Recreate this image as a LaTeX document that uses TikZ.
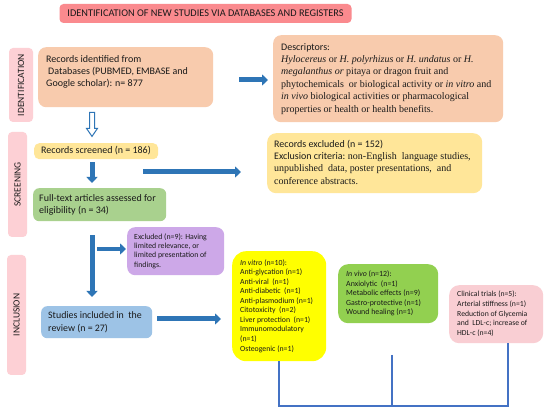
\documentclass[tikz,border=0pt]{standalone}
\usepackage{fontspec}
\setmainfont{Carlito}
\newfontfamily\tms{Liberation Serif}
\usetikzlibrary{arrows.meta,calc}
\definecolor{titlepink}{HTML}{FA8A8E}
\definecolor{sidepink}{HTML}{FDD0D5}
\definecolor{peach}{HTML}{F8CBAD}
\definecolor{lightyellow}{HTML}{FFE699}
\definecolor{lightgreen}{HTML}{A9D18E}
\definecolor{lavender}{HTML}{CDA8E8}
\definecolor{lightblue}{HTML}{9DC3E6}
\definecolor{brightyellow}{HTML}{FFFF00}
\definecolor{vivogreen}{HTML}{92D050}
\definecolor{clinpink}{HTML}{F9CED3}
\definecolor{arrowblue}{HTML}{2E75B6}
\definecolor{connblue}{HTML}{4472C4}
\definecolor{ink}{HTML}{1A1A1A}
\newcommand\lines[2]{\makebox[#1][l]{\begin{tabular}{@{}l@{}}#2\end{tabular}}}
\newcommand\tmsf{\tms\fontsize{10}{12.4}\selectfont}
\tikzset{
  box/.style={rounded corners=8pt, inner ysep=0pt, anchor=north west, text=ink},
  sidebar/.style={fill=sidepink, rounded corners=4pt, rotate=90, inner sep=0pt, text=ink,
    font=\fontsize{9.5}{11}\selectfont},
  bigarrow/.style={draw=arrowblue, line width=5pt, -{Triangle[length=6pt,width=11pt]}},
  hollowarrow/.style={draw=arrowblue, fill=white, line width=1pt, line join=miter},
  conn/.style={draw=connblue, line width=1.5pt},
}
\begin{document}
\begin{tikzpicture}[x=1pt,y=-1pt]
\useasboundingbox (0,0) rectangle (550,414);
\fill[white] (0,0) rectangle (550,414);

% title
\node[fill=titlepink, rounded corners=4pt, minimum width=292pt, minimum height=19pt, inner sep=0pt,
  text=ink, font=\fontsize{10.3}{12}\selectfont] (title) at (205.5,13.5)
  {IDENTIFICATION OF NEW STUDIES VIA DATABASES AND REGISTERS};

% side bars
\node[sidebar, minimum width=74pt, minimum height=24pt] (sid) at (21,85) {IDENTIFICATION};
\node[sidebar, minimum width=105pt, minimum height=19pt] (sscr) at (17.5,184.5) {SCREENING};
\node[sidebar, minimum width=120pt, minimum height=19pt] (sinc) at (16.5,315) {INCLUSION};

% boxes
\node[box, fill=peach, inner xsep=8pt, minimum height=60pt,
  font=\fontsize{10}{12}\selectfont] (rec) at (38,47)
  {\lines{159pt}{Records identified from\\
   \hspace*{2pt}Databases (PUBMED, EMBASE and\\ Google scholar): n= 877\\ \\[-1pt]}};

\node[box, fill=peach, inner xsep=8pt, minimum height=87pt,
  font=\fontsize{10}{12.4}\selectfont] (desc) at (273,35)
  {\lines{214pt}{Descriptors:\\
   \tmsf\textit{Hylocereus} or \textit{H. polyrhizus} or \textit{H. undatus} or \textit{H.}\\
   \tmsf\textit{megalanthus or} pitaya or dragon fruit and\\
   \tmsf phytochemicals\ \ or biological activity or \textit{in vitro} and\\
   \tmsf\textit{in vivo} biological activities or pharmacological\\
   \tmsf properties or health or health benefits.}};

\node[box, fill=lightyellow, rounded corners=5pt, inner xsep=7pt, minimum height=16pt,
  font=\fontsize{10}{12}\selectfont] (scr) at (34,143) {\lines{110pt}{Records screened (n = 186)}};

\node[box, fill=lightyellow, rounded corners=9pt, inner xsep=7pt, minimum height=60pt,
  font=\fontsize{10}{12.4}\selectfont] (excl) at (267,133)
  {\lines{201pt}{Records excluded (n = 152)\\
   Exclusion criteria:{\tmsf\ non-English\ \ language studies,}\\
   \tmsf unpublished\ \ data, poster presentations,\ \ and\\
   \tmsf conference abstracts.}};

\node[box, fill=lightgreen, rounded corners=6pt, inner xsep=6pt, minimum height=33pt,
  font=\fontsize{10}{12}\selectfont] (full) at (33,188)
  {\lines{121pt}{Full-text articles assessed for\\ eligibility (n = 34)}};

\node[box, fill=lavender, rounded corners=8pt, inner xsep=7pt, minimum height=48pt,
  font=\fontsize{7.8}{9.3}\selectfont] (ex9) at (127,227)
  {\lines{83pt}{Excluded (n=9): Having\\ limited relevance, or\\ limited presentation of\\ findings.}};

\node[box, fill=lightblue, rounded corners=6pt, inner xsep=7pt, minimum height=32pt,
  font=\fontsize{9.9}{13}\selectfont] (stud) at (41,306)
  {\lines{97pt}{Studies included in\ \ the\\ review (n = 27)}};

\node[box, fill=brightyellow, rounded corners=14pt, inner xsep=8pt, minimum height=110pt,
  font=\fontsize{7.8}{9.55}\selectfont] (inv) at (232,251)
  {\lines{78pt}{\textit{In vitro} (n=10):\\ Anti-glycation (n=1)\\ Anti-viral\ \ (n=1)\\ Anti-diabetic\ \ (n=1)\\
   Anti-plasmodium (n=1)\\ Citotoxicity\ \ (n=2)\\ Liver protection\ \ (n=1)\\ Immunomodulatory\\
   (n=1)\\ Osteogenic (n=1)}};

\node[box, fill=vivogreen, rounded corners=10pt, inner xsep=8pt, minimum height=59pt,
  font=\fontsize{7.9}{9.5}\selectfont] (viv) at (338,264)
  {\lines{84pt}{\textit{In vivo} (n=12):\\ Anxiolytic\ \ (n=1)\\ Metabolic effects (n=9)\\ Gastro-protective (n=1)\\ Wound healing (n=1)}};

\node[box, fill=clinpink, rounded corners=10pt, inner xsep=8pt, minimum height=58pt,
  font=\fontsize{7.7}{9.75}\selectfont] (clin) at (449,285)
  {\lines{78pt}{Clinical trials (n=5):\\ Arterial stiffness (n=1)\\ Reduction of Glycemia\\ and\ \ LDL-c; increase of\\ HDL-c (n=4)}};

% arrow coordinates
\coordinate (ax) at (92,0);
\coordinate (y1) at (0,80);
\coordinate (a4) at (143,172);
\coordinate (a6) at (97,249);
\coordinate (y7) at (0,319);
\coordinate (hl) at (0,406);
\coordinate (cx) at (508,0);
\coordinate (vv) at (392,355);

% hollow arrow
\draw[hollowarrow] ($(ax |- rec.south)+(-2.5,5)$) -- ++(5,0) -- ++(0,16) -- ++(3,0)
  -- ++(-5.5,8) -- ++(-5.5,-8) -- ++(3,0) -- cycle;

% solid arrows
\draw[bigarrow, shorten <=26pt, shorten >=5pt] (rec.east |- y1) -- (desc.west |- y1);
\draw[bigarrow, shorten <=3pt, shorten >=5pt] (ax |- scr.south) -- (ax |- full.north);
\draw[bigarrow, shorten >=26pt] (a4) -- (excl.west |- a4);
\draw[bigarrow, shorten <=14pt, shorten >=9pt] (ax |- full.south) -- (ax |- stud.north);
\draw[bigarrow, line width=4pt, shorten >=1pt] (a6) -- (ex9.west |- a6);
\draw[bigarrow, shorten <=5pt, shorten >=11pt] (stud.east |- y7) -- (inv.west |- y7);

% connectors
\draw[conn] (inv.south) -- (inv.south |- hl) -- (cx |- hl) -- (cx |- clin.south);
\draw[conn] (vv) -- (vv |- hl);
\end{tikzpicture}
\end{document}
